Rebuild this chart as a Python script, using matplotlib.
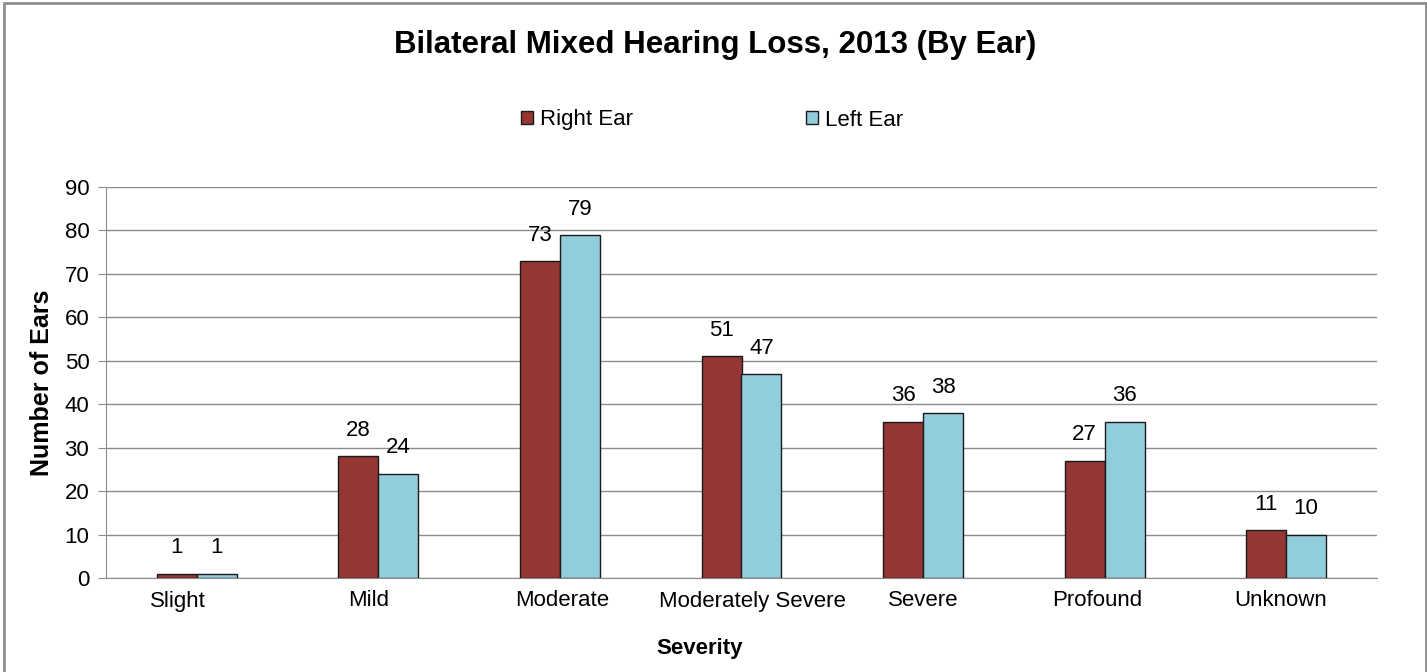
import matplotlib
matplotlib.use('Agg')
from matplotlib import pyplot as plt
from matplotlib.patches import Rectangle
import matplotlib.transforms as mtransforms
import numpy as np

plt.rcParams['font.family'] = ['Liberation Sans', 'DejaVu Sans']

# data
categories = ['Slight', 'Mild', 'Moderate', 'Moderately Severe', 'Severe', 'Profound', 'Unknown']
right_ear = [1, 28, 73, 51, 36, 27, 11]
left_ear = [1, 24, 79, 47, 38, 36, 10]
yticks = [0, 10, 20, 30, 40, 50, 60, 70, 80, 90]

red = '#943634'
blue = '#92CDDC'
grid_c = '#8c8c8c'

fig = plt.figure(figsize=(14.27, 6.72), dpi=100)
# outer grey frame
fig.patches.append(Rectangle((0.003, -0.01), 0.996, 1.006, transform=fig.transFigure,
                             fill=False, edgecolor='#8f8f8f', linewidth=2))

ax = fig.add_axes([106/1427, 1-578/672, (1377-106)/1427, (578-187)/672])
x = np.arange(len(categories))
w = 0.22
b1 = ax.bar(x - w/2, right_ear, w, color=red, edgecolor='#1a1a1a', linewidth=1, label='Right Ear', zorder=3)
b2 = ax.bar(x + w/2, left_ear, w, color=blue, edgecolor='#1a1a1a', linewidth=1, label='Left Ear', zorder=3)

for bars, vals in ((b1, right_ear), (b2, left_ear)):
    for r, v in zip(bars, vals):
        ax.annotate(str(v), (r.get_x() + r.get_width()/2, v), xytext=(0, 11),
                    textcoords='offset points', ha='center', va='bottom', fontsize=16)

ax.set_xlim(-0.5, len(categories) - 0.5)
ax.set_ylim(0, 90)
ax.set_yticks(yticks)
ax.set_xticks(x)
ax.set_xticklabels(categories)
ax.yaxis.grid(True, color=grid_c, linewidth=1, zorder=0)
ax.set_axisbelow(True)
for s in ['top', 'right']:
    ax.spines[s].set_visible(False)
ax.spines['left'].set_color(grid_c)
ax.spines['bottom'].set_color(grid_c)
ax.tick_params(axis='y', labelsize=16, length=6, color=grid_c, pad=6)
ax.tick_params(axis='x', labelsize=16, length=0, pad=9)

# excel nudges the category labels a bit, copy that (pixels)
nudge = [-19, -10, 2, 11, 0, -7, -6]
for lab, dx in zip(ax.get_xticklabels(), nudge):
    lab.set_transform(lab.get_transform() + mtransforms.ScaledTranslation(dx/100, 0, fig.dpi_scale_trans))

ax.set_xlabel('Severity', fontsize=16, fontweight='bold')
ax.xaxis.set_label_coords((700-106)/1271, -(638-578)/391)
ax.set_ylabel('Number of Ears', fontsize=18, fontweight='bold')
ax.yaxis.set_label_coords(-(106-54)/1271, (578-383)/391)

fig.text(715/1427, 1-45/672, 'Bilateral Mixed Hearing Loss, 2013 (By Ear)', ha='center', va='center',
         fontsize=22.5, fontweight='bold')
fig.legend(handles=[b1, b2], loc='center', bbox_to_anchor=(712/1427, 1-120/672), ncol=2, frameon=False,
           fontsize=16, handlelength=0.55, handleheight=0.55, handletextpad=0.3, columnspacing=7.8)

fig.savefig('out.png', dpi=100)
